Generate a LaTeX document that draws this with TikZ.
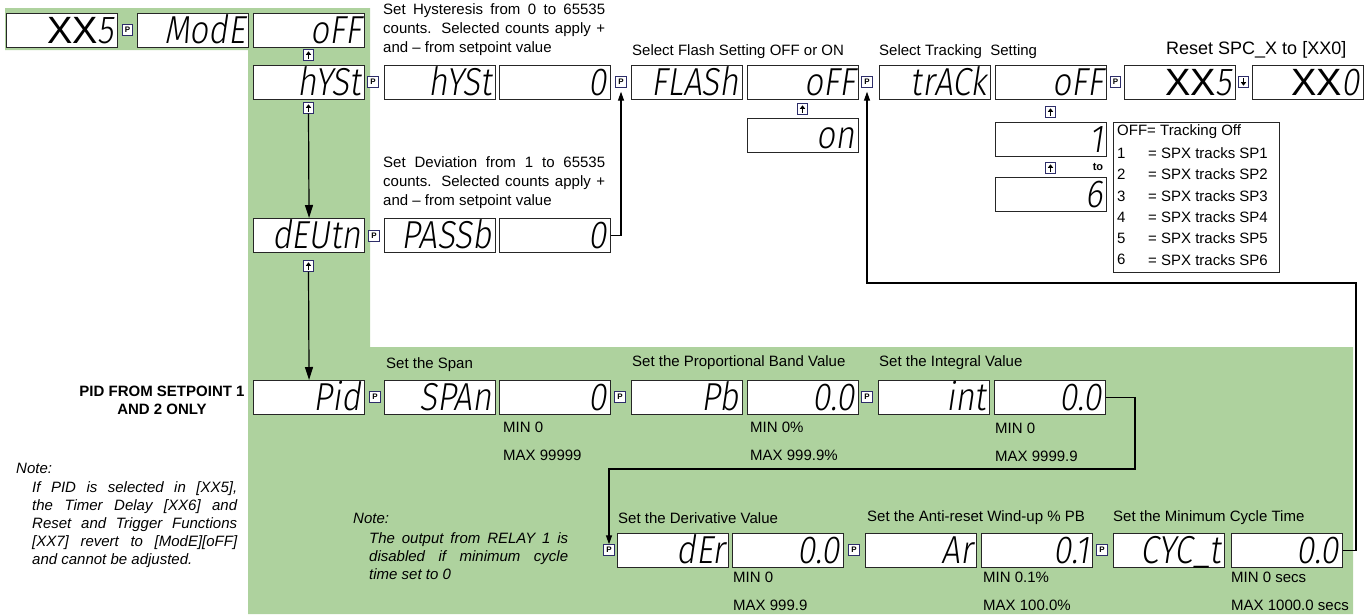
\documentclass[tikz,border=0pt]{standalone}
\usepackage{fontspec}
\setmainfont{Liberation Sans}
\newfontfamily\segfont{Fira Sans Light}[FakeSlant=0.15, FakeStretch=0.85]
\newfontfamily\xxfont{Liberation Sans}
\usetikzlibrary{arrows.meta}
\definecolor{panelgreen}{RGB}{174,210,158}
\definecolor{keynavy}{RGB}{45,45,105}
\tikzset{
  disp/.style={draw=black!85, line width=1.1pt, fill=white, anchor=north west,
    minimum width=111pt, minimum height=34pt, inner sep=0pt,
    text width=104pt, align=right, text height=26pt, text depth=0pt,
    font=\segfont\fontsize{39}{39}\selectfont},
  keybox/.style={draw=keynavy, line width=0.9pt, fill=white, minimum size=10.5pt,
    inner sep=0pt, font=\bfseries\fontsize{8}{8}\selectfont},
  keyarrow/.style={line width=1.4pt, -{Triangle[length=3.4pt,width=5.2pt]}},
  flow/.style={line width=1.2pt, -{Triangle[length=13pt,width=8pt]}},
  flowsm/.style={line width=1.2pt, -{Triangle[length=9pt,width=6pt]}},
  lbl/.style={anchor=west, inner sep=0pt, font=\fontsize{15}{18}\selectfont},
  para/.style={anchor=north west, inner sep=0pt, align=left, font=\fontsize{15}{19}\selectfont},
  note/.style={anchor=north west, inner sep=0pt, align=left, font=\itshape\fontsize{15}{18}\selectfont},
  notehead/.style={anchor=west, inner sep=0pt, font=\itshape\fontsize{15}{18}\selectfont},
}
\newcommand{\upkey}[3]{\node[keybox] (#1) at (#2,#3) {};
  \draw[keyarrow] ([yshift=-3.6pt]#1.center) -- ([yshift=3.6pt]#1.center);}
\newcommand{\downkey}[3]{\node[keybox] (#1) at (#2,#3) {};
  \draw[keyarrow] ([yshift=3.6pt]#1.center) -- ([yshift=-3.6pt]#1.center);}
\newcommand{\xx}{{\xxfont\fontsize{38}{38}\selectfont XX}}
\begin{document}
\begin{tikzpicture}[x=1pt,y=-1pt]
\useasboundingbox (0,0) rectangle (1371,614);
% green panel
\fill[panelgreen] (5,8) -- (370,8) -- (370,347) -- (1353,347) -- (1353,614)
  -- (248,614) -- (248,50) -- (5,50) -- cycle;
% row 1
\node[disp] (xxa) at (6,13) {\xx5};
\node[keybox] (pa) at (127.5,30) {P};
\node[disp] (mode) at (137,13) {ModE};
\node[disp] (offa) at (253,13) {oFF};
\upkey{ua}{308.5}{55}
% row 2
\node[disp] (hysta) at (253,65) {hYSt};
\node[keybox] (pb) at (373,82) {P};
\node[disp] (hystb) at (384,65) {hYSt};
\node[disp] (hv) at (499,65) {0};
\node[keybox] (pflash) at (621,82) {P};
\node[disp] (flash) at (631,65) {FLASh};
\node[disp] (foff) at (747,65) {oFF};
\node[keybox] (ptrack) at (867,82) {P};
\node[disp] (track) at (879,65) {trACk};
\node[disp] (toff) at (995,65) {oFF};
\node[keybox] (pxx) at (1115.5,82) {P};
\node[disp] (xxb) at (1124,65) {\xx5};
\downkey{dxx}{1243.5}{82}
\node[disp] (xxc) at (1252,65) {\xx0};
% flash / tracking options
\upkey{uflash}{802.5}{109}
\node[disp] (fon) at (747,118) {on};
\upkey{utrack}{1050.5}{112}
\node[disp] (tone) at (995,122) {1};
\upkey{uto}{1050.5}{168}
\node[inner sep=0pt, font=\bfseries\fontsize{11}{11}\selectfont] (tolbl) at (1098,167) {to};
\node[disp] (tsix) at (995,177) {6};
\node[draw=black!85, line width=0.9pt, anchor=north west, minimum width=166pt,
  minimum height=150pt, inner sep=0pt] (legend) at (1113,122) {};
\node[lbl] (lg0) at (1117,132) {OFF= Tracking Off};
\foreach \i in {1,...,6} {
  \node[lbl] (lgn\i) at (1117,{132+21.3*\i}) {\i};
  \node[lbl] (lgt\i) at (1148,{132+21.3*\i}) {= SPX tracks SP\i};
}
% hysteresis column
\upkey{uh}{308.5}{108}
\node[disp] (deutn) at (253,218) {dEUtn};
\node[keybox] (pc) at (374,236) {P};
\node[disp] (passb) at (384,218) {PASSb};
\node[disp] (dv) at (499,218) {0};
\upkey{ud}{308.5}{266}
% PID row
\node[disp] (pid) at (253,380) {Pid};
\node[keybox] (pd) at (375,397) {P};
\node[disp] (span) at (384,380) {SPAn};
\node[disp] (sv) at (499,380) {0};
\node[keybox] (pe) at (620,397) {P};
\node[disp] (pband) at (631,380) {Pb};
\node[disp] (pv) at (747,380) {0.0};
\node[keybox] (pf) at (867,397) {P};
\node[disp] (intg) at (878,380) {int};
\node[disp] (iv) at (994,380) {0.0};
% derivative row
\node[keybox] (pg) at (609,550) {P};
\node[disp] (der) at (617,533) {dEr};
\node[disp] (dv2) at (732,533) {0.0};
\node[keybox] (ph) at (854,550) {P};
\node[disp] (ar) at (865,533) {Ar};
\node[disp] (av) at (981,533) {0.1};
\node[keybox] (pi) at (1102,550) {P};
\node[disp] (cyc) at (1113,533) {CYC\_t};
\node[disp] (cv) at (1231,533) {0.0};
% connectors
\draw[flow] (uh.south) -- (deutn.north);
\draw[flow] (ud.south) -- (pid.north);
\draw[flowsm] (dv.east) -| ([yshift=-4pt]pflash.south);
\coordinate (turnA) at (1135,469);
\draw[flowsm] (iv.east) -| (turnA) -| (pg.north);
\coordinate (turnB) at (1356,283);
\draw[flowsm] (cv.east) -| (turnB) -| ([yshift=-4pt]ptrack.south);
% texts
\node[para] (hystxt) at (383,3) {\makebox[222pt][s]{Set Hysteresis from 0 to 65535}\\
  \makebox[222pt][s]{counts. Selected counts apply +}\\and – from setpoint value};
\node[para] (devtxt) at (383,156) {\makebox[222pt][s]{Set Deviation from 1 to 65535}\\
  \makebox[222pt][s]{counts. Selected counts apply +}\\and – from setpoint value};
\node[lbl] (flashtxt) at (632,52) {Select Flash Setting OFF or ON};
\node[lbl] (tracktxt) at (879,52) {Select Tracking\ \ Setting};
\node[lbl, font=\fontsize{18}{20}\selectfont] (resettxt) at (1166,50) {Reset SPC\_X to [XX0]};
\node[anchor=north, inner sep=0pt, align=center, font=\bfseries\fontsize{15}{18}\selectfont]
  (pidnote) at (162,386) {PID FROM SETPOINT 1\\AND 2 ONLY};
\node[notehead] (note1) at (16,468) {Note:};
\node[note] (note1txt) at (32,481) {\makebox[205pt][s]{If PID is selected in [XX5],}\\
  \makebox[205pt][s]{the Timer Delay [XX6] and}\\
  \makebox[205pt][s]{Reset and Trigger Functions}\\
  \makebox[205pt][s]{[XX7] revert to [ModE][oFF]}\\and cannot be adjusted.};
\node[notehead] (note2) at (353,518) {Note:};
\node[note] (note2txt) at (369,532) {\makebox[199pt][s]{The output from RELAY 1 is}\\
  \makebox[199pt][s]{disabled if minimum cycle}\\time set to 0};
\node[lbl] (spantxt) at (386,365) {Set the Span};
\node[lbl] (pbtxt) at (632,363) {Set the Proportional Band Value};
\node[lbl] (inttxt) at (879,363) {Set the Integral Value};
\node[lbl] (min1) at (503,427) {MIN 0};
\node[lbl] (max1) at (503,455) {MAX 99999};
\node[lbl] (min2) at (750,427) {MIN 0\%};
\node[lbl] (max2) at (750,455) {MAX 999.9\%};
\node[lbl] (min3) at (995,428) {MIN 0};
\node[lbl] (max3) at (995,456) {MAX 9999.9};
\node[lbl] (dertxt) at (618,518) {Set the Derivative Value};
\node[lbl] (artxt) at (867,518) {Set the Anti-reset Wind-up \% PB};
\node[lbl] (cyctxt) at (1113,518) {Set the Minimum Cycle Time};
\node[lbl] (min4) at (733,577) {MIN 0};
\node[lbl] (max4) at (733,605) {MAX 999.9};
\node[lbl] (min5) at (983,577) {MIN 0.1\%};
\node[lbl] (max5) at (983,605) {MAX 100.0\%};
\node[lbl] (min6) at (1231,577) {MIN 0 secs};
\node[lbl] (max6) at (1231,605) {MAX 1000.0 secs};
\end{tikzpicture}
\end{document}
